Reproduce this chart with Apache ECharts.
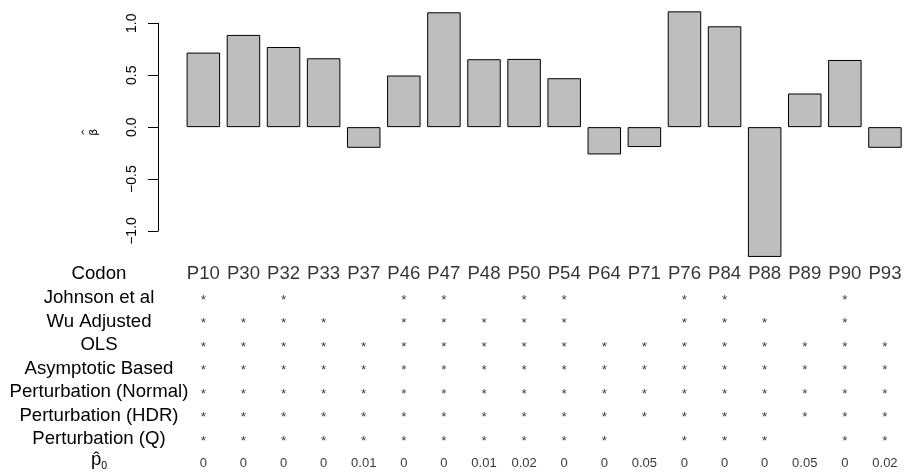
<!DOCTYPE html>
<html>
<head>
<meta charset="utf-8">
<script src="https://cdn.jsdelivr.net/npm/echarts@6/dist/echarts.min.js"></script>
<style>
html,body{margin:0;padding:0;background:#fff;}
#c{width:905px;height:476px;}
</style>
</head>
<body>
<div id="c"></div>
<script>
// ---- data ----
const codons = ['P10','P30','P32','P33','P37','P46','P47','P48','P50','P54','P64','P71','P76','P84','P88','P89','P90','P93'];
const betaHat = [0.718,0.888,0.772,0.663,-0.199,0.497,1.106,0.654,0.657,0.471,-0.263,-0.192,1.115,0.971,-1.25,0.324,0.647,-0.199];
const methodNames = ['Johnson et al','Wu Adjusted','OLS','Asymptotic Based','Perturbation (Normal)','Perturbation (HDR)','Perturbation (Q)'];
const johnson   = [1,0,1,0,0,1,1,0,1,1,0,0,1,1,0,0,1,0];
const wuAdj     = [1,1,1,1,0,1,1,1,1,1,0,0,1,1,1,0,1,0];
const ols       = [1,1,1,1,1,1,1,1,1,1,1,1,1,1,1,1,1,1];
const asymp     = [1,1,1,1,1,1,1,1,1,1,1,1,1,1,1,1,1,1];
const pertNorm  = [1,1,1,1,1,1,1,1,1,1,1,1,1,1,1,1,1,1];
const pertHDR   = [1,1,1,1,1,1,1,1,1,1,1,1,1,1,1,1,1,1];
const pertQ     = [1,1,1,1,1,1,1,1,1,1,1,0,1,1,1,0,1,1];
const p0Hat     = [0,0,0,0,0.01,0,0,0.01,0.02,0,0,0.05,0,0,0,0.05,0,0.02];
const yTickMin = -1, yTickMax = 1, yTickStep = 0.5;

// ---- build ----
const methodRows = [johnson, wuAdj, ols, asymp, pertNorm, pertHDR, pertQ];
const rowKeys = ['Codon'].concat(methodNames).concat(['p0']);
const FONT = 'Liberation Sans, Arial, Helvetica, sans-serif';

const codonData = codons.map(c => ({value:[c,'Codon'], name:c}));
const starData = [];
methodRows.forEach((row, r) => row.forEach((s, i) => { if (s) starData.push({value:[codons[i], methodNames[r]]}); }));
const p0Data = p0Hat.map((v, i) => ({value:[codons[i], 'p0'], name:String(v)}));

const gLeft = 183.3, gWidth = 723.6;
const chart = echarts.init(document.getElementById('c'), null, {renderer:'canvas'});
chart.setOption({
  animation:false,
  backgroundColor:'#fff',
  grid:[
    {left:gLeft, width:gWidth, top:2.53, height:259.6},
    {left:gLeft, width:gWidth, top:262.45, height:212.3},
    {left:158, width:10, top:23.3, height:207.7}
  ],
  xAxis:[
    {type:'category', gridIndex:0, data:codons, show:false},
    {type:'category', gridIndex:1, data:codons, show:false},
    {type:'value', gridIndex:2, show:false}
  ],
  yAxis:[
    {type:'value', gridIndex:0, min:-1.3, max:1.2,
      axisLine:{show:false}, axisTick:{show:false}, axisLabel:{show:false}, splitLine:{show:false},
      name:'{h|^}\n{b|\u03B2}', nameLocation:'middle', nameRotate:90, nameGap:83,
      nameTextStyle:{color:'#000', fontFamily:'DejaVu Sans',
        rich:{
          h:{fontSize:9, lineHeight:6, fontFamily:'DejaVu Sans', color:'#000'},
          b:{fontSize:11, lineHeight:12, fontFamily:'DejaVu Sans', color:'#000'}
        }}},
    {type:'category', gridIndex:1, data:rowKeys, inverse:true,
      axisLine:{show:false}, axisTick:{show:false}, splitLine:{show:false},
      axisLabel:{interval:0, align:'center', margin:gLeft-99, fontSize:18.6, color:'#000', fontFamily:FONT,
        formatter: v => v === 'p0' ? '{p|p\u0302}{s|0}' : v,
        rich:{
          p:{fontSize:18.6, fontFamily:FONT, color:'#000', lineHeight:18, padding:[6,0,3,0], verticalAlign:'bottom'},
          s:{fontSize:10.5, fontFamily:FONT, color:'#000', lineHeight:10, verticalAlign:'bottom'}
        }}},
    {type:'value', gridIndex:2, min:yTickMin, max:yTickMax, interval:yTickStep,
      axisLine:{show:true, lineStyle:{color:'#000', width:1}},
      axisTick:{show:true, length:10, lineStyle:{color:'#000', width:1}},
      splitLine:{show:false},
      axisLabel:{rotate:90, margin:18.5, fontSize:14, color:'#000', fontFamily:FONT,
        formatter: v => v.toFixed(1).replace('-', '\u2212')}}
  ],
  series:[
    {type:'bar', xAxisIndex:0, yAxisIndex:0, data:betaHat, barWidth:33.5,
      itemStyle:{color:'#BEBEBE', borderColor:'#000', borderWidth:1}, silent:true},
    {type:'scatter', xAxisIndex:1, yAxisIndex:1, data:codonData, symbolSize:0, silent:true,
      label:{show:true, position:'inside', formatter:p => p.name, fontSize:18.6, color:'#000', fontFamily:FONT}},
    {type:'scatter', xAxisIndex:1, yAxisIndex:1, data:starData, symbolSize:0, silent:true,
      label:{show:true, position:'inside', formatter:'*', offset:[0,2], fontSize:13.5, color:'#000', fontFamily:FONT}},
    {type:'scatter', xAxisIndex:1, yAxisIndex:1, data:p0Data, symbolSize:0, silent:true,
      label:{show:true, position:'inside', formatter:p => p.name, fontSize:13, color:'#000', fontFamily:FONT}}
  ]
});
</script>
</body>
</html>
